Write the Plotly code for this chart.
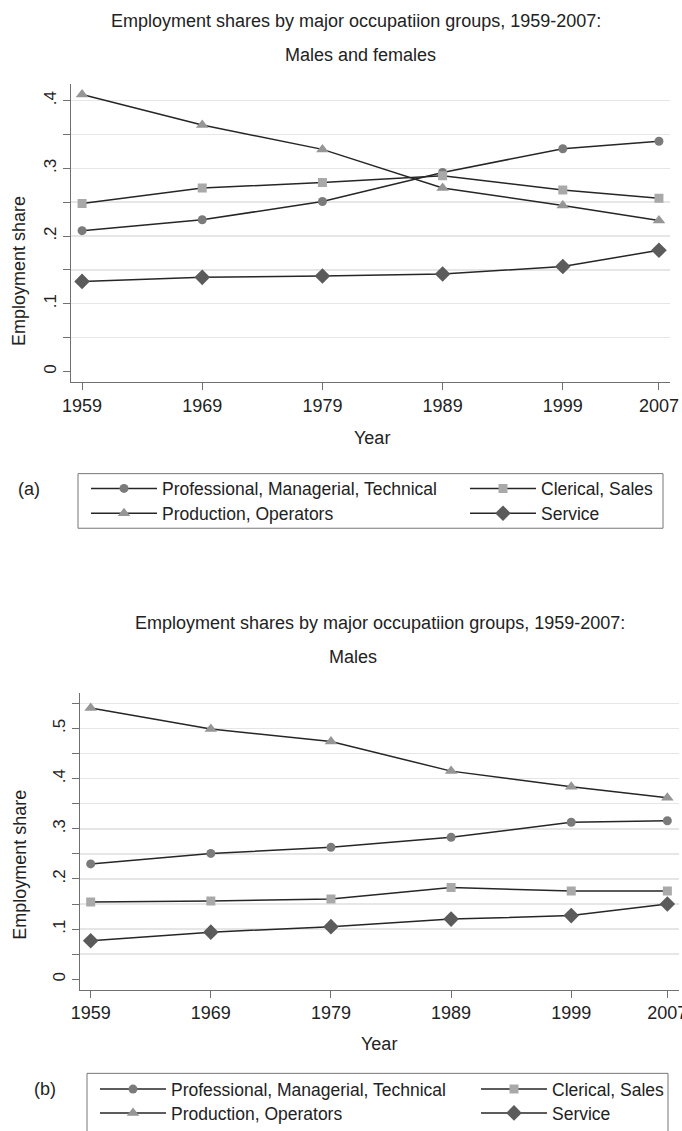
import plotly.graph_objects as go

# ---------------- data ----------------
years = [1959, 1969, 1979, 1989, 1999, 2007]
series_names = ["Professional, Managerial, Technical", "Clerical, Sales",
                "Production, Operators", "Service"]

# Panel (a): males and females
prof_all = [0.208, 0.224, 0.251, 0.294, 0.329, 0.340]
cler_all = [0.248, 0.271, 0.279, 0.289, 0.268, 0.256]
prod_all = [0.409, 0.364, 0.328, 0.271, 0.245, 0.223]
serv_all = [0.133, 0.139, 0.141, 0.144, 0.155, 0.179]

# Panel (b): males
prof_m = [0.230, 0.251, 0.263, 0.283, 0.313, 0.316]
cler_m = [0.154, 0.156, 0.160, 0.183, 0.176, 0.176]
prod_m = [0.541, 0.499, 0.474, 0.415, 0.384, 0.362]
serv_m = [0.077, 0.094, 0.105, 0.120, 0.127, 0.150]

ytick_a = [0, 0.05, 0.1, 0.15, 0.2, 0.25, 0.3, 0.35, 0.4]
ytext_a = ["0", "", ".1", "", ".2", "", ".3", "", ".4"]
ytick_b = [0, 0.05, 0.1, 0.15, 0.2, 0.25, 0.3, 0.35, 0.4, 0.45, 0.5, 0.55]
ytext_b = ["0", "", ".1", "", ".2", "", ".3", "", ".4", "", ".5", ""]

# ---------------- styling ----------------
W, H = 682, 1131
FONT = "Liberation Sans, Arial, sans-serif"
styles = [
    dict(symbol="circle", size=9, color="#7b7b7b"),
    dict(symbol="square", size=9, color="#a9a9a9"),
    dict(symbol="triangle-up", size=11, color="#969696"),
    dict(symbol="diamond", size=12, color="#5b5b5b"),
]

def px_x(v):
    return v / W

def px_y(v):
    return 1 - v / H

fig = go.Figure()

# legend slots: (legend left x, row centre y) per series, per panel
legend_pos_a = [(86, 492), (465, 492), (86, 517), (465, 517)]
legend_pos_b = [(95, 1097), (476, 1097), (95, 1121), (476, 1121)]

panels = [
    ([prof_all, cler_all, prod_all, serv_all], "x", "y", 1, legend_pos_a),
    ([prof_m, cler_m, prod_m, serv_m], "x2", "y2", 5, legend_pos_b),
]
legend_layout = {}
for vals, xa, ya, lg0, lpos in panels:
    for i, (name, v, st) in enumerate(zip(series_names, vals, styles)):
        lid = "legend" if lg0 + i == 1 else f"legend{lg0 + i}"
        fig.add_trace(go.Scatter(
            x=years, y=v, name=name, mode="lines+markers",
            xaxis=xa, yaxis=ya, legend=lid,
            line=dict(color="#262626", width=1.5),
            marker=dict(symbol=st["symbol"], size=st["size"], color=st["color"],
                        line=dict(width=0)),
        ))
        lx, ly = lpos[i]
        legend_layout[lid] = dict(
            x=px_x(lx), y=px_y(ly), xanchor="left", yanchor="middle",
            orientation="v", itemwidth=66, borderwidth=0,
            bgcolor="rgba(0,0,0,0)", itemclick=False, itemdoubleclick=False,
            font=dict(family=FONT, size=17.5, color="#222"),
        )

axis_common = dict(
    showline=True, linecolor="#707070", linewidth=1,
    ticks="outside", ticklen=7, tickcolor="#707070", tickwidth=1,
    automargin=False, fixedrange=True,
)

xcommon = dict(axis_common, tickvals=years, ticktext=[str(y) for y in years],
               showgrid=False, zeroline=False, ticklabeloverflow="allow",
               tickfont=dict(family=FONT, size=18, color="#222"))
ycommon = dict(axis_common, showgrid=True, gridcolor="#e6e6e6", gridwidth=1.5,
               zeroline=True, zerolinecolor="white", zerolinewidth=2,
               tickangle=-90,
               tickfont=dict(family=FONT, size=17, color="#222"))

fig.update_layout(
    width=W, height=H,
    margin=dict(l=0, r=0, t=0, b=0),
    paper_bgcolor="white", plot_bgcolor="white",
    font=dict(family=FONT, color="#222"),
    xaxis=dict(xcommon, domain=[px_x(71), px_x(670)], range=[1958.08, 2007.92], anchor="y"),
    yaxis=dict(ycommon, domain=[px_y(385), px_y(85)], range=[-0.016, 0.424],
               tickvals=ytick_a, ticktext=ytext_a, anchor="x"),
    xaxis2=dict(xcommon, domain=[px_x(80), px_x(679)], range=[1958.11, 2007.97], anchor="y2"),
    yaxis2=dict(ycommon, domain=[px_y(996.7), px_y(698.3)], range=[-0.0206, 0.570],
                tickvals=ytick_b, ticktext=ytext_b, anchor="x2"),
    showlegend=True,
    **legend_layout,
)

# legend frames
for x0, x1, y0, y1 in [(78, 663, 477, 532), (87, 668, 1081, 1140)]:
    fig.add_shape(type="rect", xref="paper", yref="paper",
                  x0=px_x(x0), x1=px_x(x1), y0=px_y(y1), y1=px_y(y0),
                  line=dict(color="#777", width=1), fillcolor="rgba(0,0,0,0)",
                  layer="below")

def ann(text, x, y, size=18, angle=0):
    fig.add_annotation(text=text, x=px_x(x), y=px_y(y), xref="paper", yref="paper",
                       showarrow=False, textangle=angle, xanchor="center", yanchor="middle",
                       font=dict(family=FONT, size=size, color="#222"))

ann("Employment shares by major occupatiion groups, 1959-2007:", 356, 21)
ann("Males and females", 360, 55)
ann("Employment share", 19, 273, size=18, angle=-90)
ann("Year", 372, 441)
ann("(a)", 29, 492, size=18)

ann("Employment shares by major occupatiion groups, 1959-2007:", 380, 627)
ann("Males", 353, 662)
ann("Employment share", 20, 871, size=18, angle=-90)
ann("Year", 379, 1051)
ann("(b)", 45, 1097, size=18)

fig.write_html(
    "out.html",
    config={"displayModeBar": False, "staticPlot": True},
    post_script="document.body.style.margin='0';document.body.style.overflow='hidden';",
)
